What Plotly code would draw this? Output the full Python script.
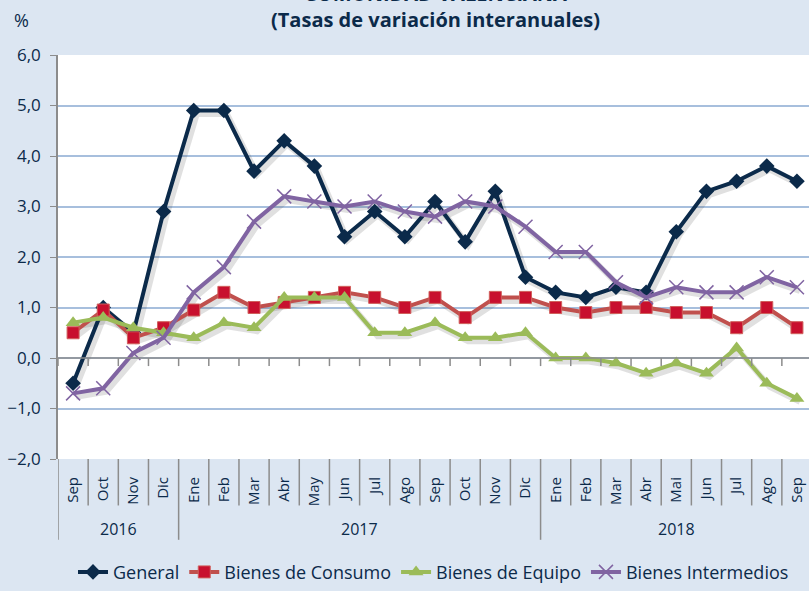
import plotly.graph_objects as go

months = ["Sep", "Oct", "Nov", "Dic",
          "Ene", "Feb", "Mar", "Abr", "May", "Jun", "Jul", "Ago", "Sep", "Oct", "Nov", "Dic",
          "Ene", "Feb", "Mar", "Abr", "Mai", "Jun", "Jul", "Ago", "Sep"]
years = ["2016", "2017", "2018"]
year_counts = [4, 12, 9]

general = [-0.5, 1.0, 0.5, 2.9, 4.9, 4.9, 3.7, 4.3, 3.8, 2.4, 2.9, 2.4, 3.1, 2.3, 3.3, 1.6,
           1.3, 1.2, 1.4, 1.3, 2.5, 3.3, 3.5, 3.8, 3.5]
consumo = [0.5, 0.95, 0.4, 0.6, 0.95, 1.3, 1.0, 1.1, 1.2, 1.3, 1.2, 1.0, 1.2, 0.8, 1.2, 1.2,
           1.0, 0.9, 1.0, 1.0, 0.9, 0.9, 0.6, 1.0, 0.6]
equipo = [0.7, 0.8, 0.6, 0.5, 0.4, 0.7, 0.6, 1.2, 1.2, 1.2, 0.5, 0.5, 0.7, 0.4, 0.4, 0.5,
          0.0, 0.0, -0.1, -0.3, -0.1, -0.3, 0.2, -0.5, -0.8]
intermedios = [-0.7, -0.6, 0.1, 0.4, 1.3, 1.8, 2.7, 3.2, 3.1, 3.0, 3.1, 2.9, 2.8, 3.1, 3.0, 2.6,
               2.1, 2.1, 1.5, 1.2, 1.4, 1.3, 1.3, 1.6, 1.4]

x = list(range(len(months)))
navy = "#0b2a4a"
font_family = "Open Sans, Liberation Sans, sans-serif"

fig = go.Figure()
series = [
    ("General", general, dict(color=navy, width=4),
     dict(symbol="diamond", size=12, color=navy)),
    ("Bienes de Consumo", consumo, dict(color="#c0504d", width=4),
     dict(symbol="square", size=12, color="#c8102e", line=dict(color="#d0605c", width=1))),
    ("Bienes de Equipo", equipo, dict(color="#9bbb59", width=4),
     dict(symbol="triangle-up", size=13, color="#9bbb59")),
    ("Bienes Intermedios", intermedios, dict(color="#8064a2", width=4),
     dict(symbol="x-thin", size=14, line=dict(color="#8064a2", width=1.5), color="#8064a2")),
]
# soft drop shadows under the lines
for name, vals, line, marker in series:
    fig.add_trace(go.Scatter(x=[v + 0.1 for v in x], y=[v - 0.07 for v in vals],
                             mode="lines", line=dict(color="rgba(60,60,60,0.16)", width=6),
                             showlegend=False, hoverinfo="skip"))
for name, vals, line, marker in series:
    fig.add_trace(go.Scatter(x=x, y=vals, name=name, mode="lines+markers",
                             line=line, marker=marker))

shapes = []
# zero line with ticks
shapes.append(dict(type="line", xref="x", yref="y", x0=-0.5, x1=24.5, y0=0, y1=0,
                   line=dict(color="#8c8c8c", width=1.5)))
for i in range(len(months) + 1):
    xb = i - 0.5
    shapes.append(dict(type="line", xref="x", yref="y", x0=xb, x1=xb, y0=0, y1=-0.16,
                       line=dict(color="#8c8c8c", width=1.5)))
# separators below the axis
bounds = [0]
for c in year_counts:
    bounds.append(bounds[-1] + c)
for i in range(len(months) + 1):
    xb = i - 0.5
    long = i in bounds
    shapes.append(dict(type="line", xref="x", yref="paper", x0=xb, x1=xb, y0=0,
                       y1=-0.2 if long else -0.115,
                       line=dict(color="#8c8c8c", width=1.5)))

annotations = []
for k, yr in enumerate(years):
    center = (bounds[k] + bounds[k + 1] - 1) / 2
    annotations.append(dict(x=center, y=-0.173, xref="x", yref="paper", text=yr,
                            yanchor="middle", showarrow=False,
                            font=dict(size=16, color=navy, family=font_family)))
annotations.append(dict(x=0.502, xref="paper", y=1.152, yref="paper", xanchor="center",
                        yanchor="middle", text="COMUNIDAD VALENCIANA", showarrow=False,
                        font=dict(size=20, color=navy, family=font_family, weight="bold")))
annotations.append(dict(x=0.502, xref="paper", y=1.087, yref="paper", xanchor="center",
                        yanchor="middle", text="(Tasas de variación interanuales)", showarrow=False,
                        font=dict(size=20, color=navy, family=font_family, weight="bold")))
annotations.append(dict(x=-0.048, xref="paper", y=1.087, yref="paper", xanchor="center",
                        yanchor="middle", text="%", showarrow=False,
                        font=dict(size=18, color=navy, family=font_family)))

fig.update_layout(
    width=809, height=591,
    margin=dict(l=58, r=0, t=55, b=132),
    paper_bgcolor="#dce6f2",
    plot_bgcolor="white",
    separators=",.",
    font=dict(family=font_family, color=navy),
    showlegend=True,
    legend=dict(orientation="h", x=0.5, xanchor="center", y=-0.326, yanchor="bottom",
                font=dict(size=18, color=navy), bgcolor="rgba(0,0,0,0)",
                tracegroupgap=0),
    shapes=shapes,
    annotations=annotations,
)
fig.update_xaxes(range=[-0.5, 24.4], tickvals=x, ticktext=months, tickangle=-90,
                 showgrid=False, zeroline=False, showline=False,
                 ticks="outside", ticklen=11, tickcolor="rgba(0,0,0,0)",
                 tickfont=dict(size=15, color=navy, family=font_family))
fig.update_yaxes(range=[-2, 6], dtick=1, tickformat=".1f", showgrid=True,
                 gridcolor="#a7bfdd", gridwidth=1.5, zeroline=False,
                 showline=True, linecolor="#8c8c8c", linewidth=1.5,
                 ticks="outside", ticklen=6, tickcolor="#8c8c8c",
                 ticklabelstandoff=6,
                 tickfont=dict(size=17, color=navy, family=font_family))

fig.write_html("out.html")
